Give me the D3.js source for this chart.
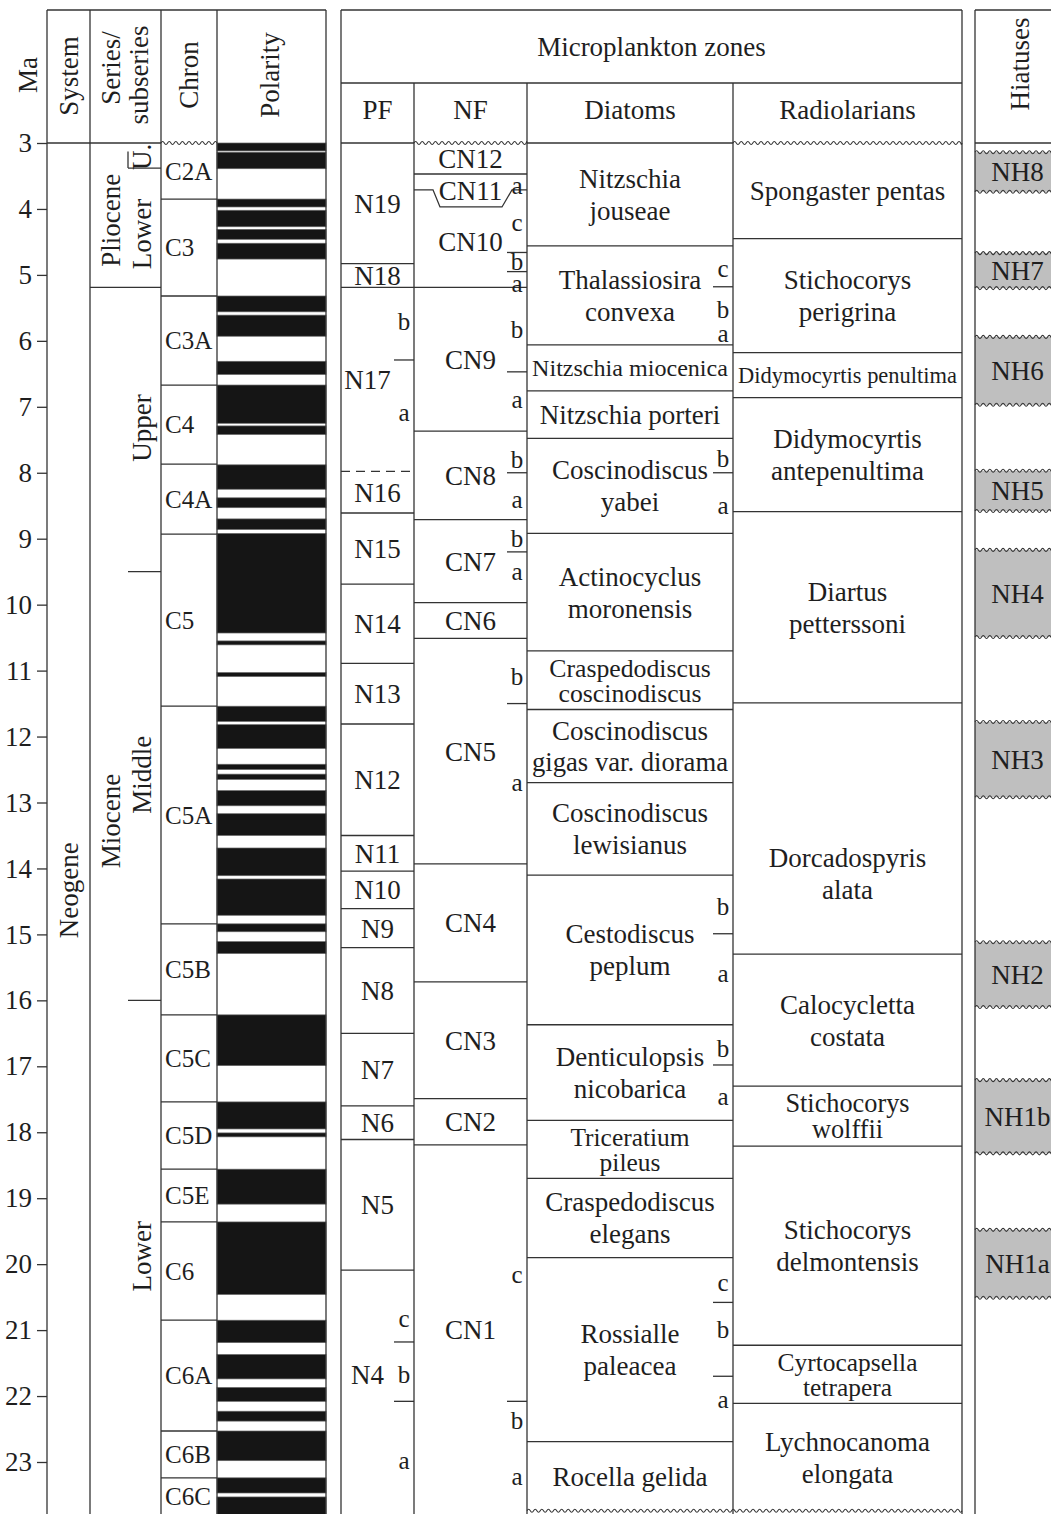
<!DOCTYPE html>
<html>
<head>
<meta charset="utf-8">
<script src="https://cdn.jsdelivr.net/npm/d3@7"></script>
<style>
  body { margin: 0; background: #fff; }
  svg text { font-family: "Liberation Serif", "Times New Roman", serif; fill: #1e1e1e; }
</style>
</head>
<body>
<svg id="chart" width="1051" height="1514"></svg>
<script>
// ---------- data (ages in Ma) ----------
const maTicks = d3.range(3, 24);

const chronNames = ['C2A', 'C3', 'C3A', 'C4', 'C4A', 'C5', 'C5A', 'C5B', 'C5C', 'C5D', 'C5E', 'C6', 'C6A', 'C6B', 'C6C'];
const chronTops  = [3.00, 3.85, 5.32, 6.67, 7.87, 8.93, 11.54, 14.84, 16.22, 17.54, 18.56, 19.36, 20.85, 22.53, 23.24];

// normal polarity (black) intervals
const normalPolarity = [
  [3.00, 3.12], [3.14, 3.39], [3.85, 3.97], [4.02, 4.27], [4.31, 4.46], [4.52, 4.76],
  [5.32, 5.56], [5.61, 5.93], [6.31, 6.51], [6.67, 7.25], [7.29, 7.42], [7.88, 8.25],
  [8.38, 8.53], [8.70, 8.86], [8.92, 10.43], [10.55, 10.61], [11.03, 11.09], [11.54, 11.77],
  [11.82, 12.18], [12.42, 12.50], [12.57, 12.65], [12.82, 13.05], [13.17, 13.50], [13.69, 14.11],
  [14.16, 14.71], [14.84, 14.96], [15.11, 15.29], [16.22, 16.99], [17.54, 17.95], [18.01, 18.07],
  [18.56, 19.09], [19.36, 20.46], [20.85, 21.19], [21.37, 21.74], [21.87, 22.08], [22.23, 22.38],
  [22.53, 22.98], [23.24, 23.47], [23.53, 23.80]
];

// series / subseries
const epochBounds = [5.19];
const stageBounds = [3.38, 9.50, 16.00];
const epochLabels = [['Pliocene', 4.17], ['Miocene', 13.28]];
const stageLabels = [['U.', 3.21], ['Lower', 4.38], ['Upper', 7.32], ['Middle', 12.58], ['Lower', 19.88]];
const systemLabel = ['Neogene', 14.33];

// planktonic foraminifera
const pfNames = ['N19', 'N18', 'N17', 'N16', 'N15', 'N14', 'N13', 'N12', 'N11', 'N10', 'N9', 'N8', 'N7', 'N6', 'N5', 'N4'];
const pfTops  = [3.00, 4.83, 5.19, 7.98, 8.61, 9.69, 10.89, 11.81, 13.50, 14.04, 14.61, 15.20, 16.50, 17.60, 18.11, 20.09];
const pfDashed = [7.98];
const pfSubLines = [6.29, 21.18, 22.08];
const pfSubLetters = [['b', 5.71], ['a', 7.09], ['c', 20.82], ['b', 21.67], ['a', 22.97]];

// nannofossils
const nfNames = ['CN12', 'CN11', 'CN10', 'CN9', 'CN8', 'CN7', 'CN6', 'CN5', 'CN4', 'CN3', 'CN2', 'CN1'];
const nfTops  = [3.00, 3.47, 3.71, 5.19, 7.37, 8.71, 9.97, 10.51, 13.93, 15.72, 17.49, 18.19];
const cn11Dip = 3.97;
const nfSubLines = [4.66, 4.95, 6.47, 8.00, 9.20, 11.50, 22.08];
const nfSubLetters = [['a', 3.64], ['c', 4.20], ['b', 4.80], ['a', 5.13], ['b', 5.82], ['a', 6.88],
  ['b', 7.79], ['a', 8.40], ['b', 9.00], ['a', 9.50], ['b', 11.08], ['a', 12.70],
  ['c', 20.16], ['b', 22.36], ['a', 23.21]];

// diatoms
const diatomNames = [['Nitzschia', 'jouseae'], ['Thalassiosira', 'convexa'], ['Nitzschia miocenica'],
  ['Nitzschia porteri'], ['Coscinodiscus', 'yabei'], ['Actinocyclus', 'moronensis'],
  ['Craspedodiscus', 'coscinodiscus'], ['Coscinodiscus', 'gigas var. diorama'], ['Coscinodiscus', 'lewisianus'],
  ['Cestodiscus', 'peplum'], ['Denticulopsis', 'nicobarica'], ['Triceratium', 'pileus'],
  ['Craspedodiscus', 'elegans'], ['Rossialle', 'paleacea'], ['Rocella gelida']];
const diatomTops = [3.00, 4.56, 6.06, 6.76, 7.48, 8.92, 10.70, 11.59, 12.70, 14.10, 16.37, 17.82, 18.70, 19.90, 22.69];
const diatomSubLines = [5.18, 8.00, 14.99, 16.98, 20.58, 21.70];
const diatomSubLetters = [['c', 4.90], ['b', 5.52], ['a', 5.88], ['b', 7.78], ['a', 8.49],
  ['b', 14.57], ['a', 15.59], ['b', 16.72], ['a', 17.45], ['c', 20.27], ['b', 20.99], ['a', 22.05]];

// radiolarians
const radNames = [['Spongaster pentas'], ['Stichocorys', 'perigrina'], ['Didymocyrtis penultima'],
  ['Didymocyrtis', 'antepenultima'], ['Diartus', 'petterssoni'], ['Dorcadospyris', 'alata'],
  ['Calocycletta', 'costata'], ['Stichocorys', 'wolffii'], ['Stichocorys', 'delmontensis'],
  ['Cyrtocapsella', 'tetrapera'], ['Lychnocanoma', 'elongata']];
const radTops = [3.00, 4.45, 6.18, 6.86, 8.59, 11.49, 15.30, 17.30, 18.21, 21.23, 22.11];

// hiatuses
const hiatusNames = ['NH8', 'NH7', 'NH6', 'NH5', 'NH4', 'NH3', 'NH2', 'NH1b', 'NH1a'];
const hiatusSpans = [[3.14, 3.74], [4.67, 5.20], [5.94, 6.97], [7.97, 8.58], [9.17, 10.49],
  [11.78, 12.92], [15.12, 16.10], [17.21, 18.32], [19.48, 20.51]];

// label positions that are not the middle of their zone
const labelMa = { 'CN11': 3.72, 'CN10': 4.50, 'N4': 21.67, 'Dorcadospyris alata': 14.08 };

// ---------- layout ----------
const BOTTOM = 23.8, WAVY_BOTTOM = 23.74;
const X = { axis: 47, sys: 90, ser: 161, chron: 217, pol: 326, pf: 341, nf: 414, dia: 527,
  rad: 733, radR: 962, hia: 975, hiaR: 1060 };
const TOP = 10, SUB = 83;
const FS = 27, FS_SUB = 25;
const ink = '#333';

const svg = d3.select('#chart');
const y = d3.scaleLinear().domain([3, 23]).range([143, 1462]);
const HEAD = y(3), YB = y(BOTTOM);

const gFill = svg.append('g');
const gLine = svg.append('g').attr('fill', 'none').attr('stroke', ink).attr('stroke-width', 1.3);
const gText = svg.append('g');

function hline(x0, x1, yy, dashed) {
  const l = gLine.append('line').attr('x1', x0).attr('x2', x1).attr('y1', yy).attr('y2', yy);
  if (dashed) l.attr('stroke-dasharray', '9,6');
  return l;
}
function vline(xx, y0, y1) {
  gLine.append('line').attr('x1', xx).attr('x2', xx).attr('y1', y0).attr('y2', y1);
}
function wavy(x0, x1, yy, period = 6.6, amp = 1.5) {
  const p = d3.path();
  p.moveTo(x0, yy);
  let x = x0, up = true;
  while (x < x1 - 0.01) {
    const nx = Math.min(x + period / 2, x1);
    p.quadraticCurveTo((x + nx) / 2, yy + (up ? -2 * amp : 2 * amp), nx, yy);
    x = nx; up = !up;
  }
  gLine.append('path').attr('d', p.toString()).attr('stroke-width', 1.1);
}
function label(x, yy, str, opt = {}) {
  const size = opt.size || FS;
  const t = gText.append('text').attr('x', x).attr('y', yy).attr('dy', '0.35em')
    .attr('text-anchor', opt.anchor || 'middle').style('font-size', size + 'px').text(str);
  if (opt.fit) {
    const w = t.node().getComputedTextLength();
    if (w > opt.fit) t.style('font-size', (size * opt.fit / w) + 'px');
  }
  return t;
}
function vlabel(x, yy, str) {
  gText.append('text').attr('transform', `translate(${x},${yy}) rotate(-90)`).attr('dy', '0.35em')
    .attr('text-anchor', 'middle').style('font-size', FS + 'px').text(str);
}

// ---------- polarity ----------
gFill.selectAll('rect.pol').data(normalPolarity).join('rect').attr('class', 'pol')
  .attr('x', X.chron).attr('width', X.pol - X.chron)
  .attr('y', d => y(d[0])).attr('height', d => y(d[1]) - y(d[0]))
  .attr('fill', '#151515').attr('stroke', '#666').attr('stroke-width', 0.7);

// ---------- hiatuses ----------
hiatusSpans.forEach((s, i) => {
  gFill.append('rect').attr('x', X.hia).attr('width', X.hiaR - X.hia)
    .attr('y', y(s[0])).attr('height', y(s[1]) - y(s[0])).attr('fill', '#bfbfbf');
  wavy(X.hia, X.hiaR, y(s[0]));
  wavy(X.hia, X.hiaR, y(s[1]));
  label((X.hia + X.hiaR) / 2, (y(s[0]) + y(s[1])) / 2, hiatusNames[i]);
});

// ---------- frame ----------
[X.axis, X.sys, X.ser, X.chron, X.pol, X.pf, X.radR, X.hia].forEach(xx => vline(xx, TOP, YB));
[X.nf, X.dia, X.rad].forEach(xx => vline(xx, SUB, YB));
hline(X.axis, X.pol, TOP);
hline(X.pf, X.radR, TOP);
hline(X.pf, X.radR, SUB);
hline(X.hia, X.hiaR, TOP);
hline(X.axis, X.ser, HEAD);
wavy(X.ser, X.chron, HEAD);
hline(X.pf, X.nf, HEAD);
wavy(X.nf, X.dia, HEAD);
hline(X.dia, X.rad, HEAD);
wavy(X.rad, X.radR, HEAD);
hline(X.hia, X.hiaR, HEAD);
wavy(X.dia, X.radR, y(WAVY_BOTTOM));

// ---------- headers ----------
vlabel(28, 75, 'Ma');
vlabel(69, 76, 'System');
vlabel(111, 68, 'Series/');
vlabel(139, 75, 'subseries');
vlabel(189, 75, 'Chron');
vlabel(270, 75, 'Polarity');
vlabel(1020, 64, 'Hiatuses');
label((X.pf + X.radR) / 2, (TOP + SUB) / 2, 'Microplankton zones');
label((X.pf + X.nf) / 2, 110, 'PF');
label((X.nf + X.dia) / 2, 110, 'NF');
label((X.dia + X.rad) / 2, 110, 'Diatoms');
label((X.rad + X.radR) / 2, 110, 'Radiolarians');

// ---------- age axis ----------
const axisG = svg.append('g').attr('transform', `translate(${X.axis},0)`)
  .call(d3.axisLeft(y).tickValues(maTicks).tickSize(10).tickPadding(5).tickFormat(d3.format('d')));
axisG.select('.domain').remove();
axisG.selectAll('.tick line').attr('stroke', ink).attr('stroke-width', 1.3);
axisG.selectAll('.tick text').attr('fill', '#1e1e1e')
  .style('font-family', '"Liberation Serif", "Times New Roman", serif').style('font-size', FS + 'px');

// ---------- system / series ----------
vlabel((X.axis + X.sys) / 2, y(systemLabel[1]), systemLabel[0]);
epochBounds.forEach(m => hline(X.sys, X.ser, y(m)));
stageBounds.forEach(m => hline(X.sys + 38, X.ser, y(m)));
vline(X.sys + 38, y(3.13), y(stageBounds[0]));
epochLabels.forEach(([t, m]) => vlabel(111, y(m), t));
stageLabels.forEach(([t, m]) => vlabel(142, y(m), t));

// ---------- chrons ----------
chronNames.forEach((name, i) => {
  const t = chronTops[i], b = i + 1 < chronTops.length ? chronTops[i + 1] : BOTTOM;
  if (i > 0) hline(X.ser, X.chron, y(t));
  label(X.ser + 4, (y(t) + y(b)) / 2, name, { anchor: 'start', size: 25, fit: X.chron - X.ser - 6 });
});

// ---------- zone columns ----------
function drawZones(x0, x1, names, tops, bottomMa, opt = {}) {
  names.forEach((name, i) => {
    const lines = Array.isArray(name) ? name : [name];
    const key = lines.join(' ');
    const t = tops[i], b = i + 1 < tops.length ? tops[i + 1] : bottomMa;
    if (i > 0 && !(opt.skip || []).includes(t)) hline(x0, x1, y(t), (opt.dashed || []).includes(t));
    const h = y(b) - y(t);
    const yc = labelMa[key] != null ? y(labelMa[key]) : (y(t) + y(b)) / 2;
    const hasSub = (opt.letters || []).some(([, m]) => m > t && m < b);
    const xc = (x0 + x1) / 2 - (hasSub && opt.shift ? opt.shift : 0);
    const gap = Math.min(32, h * 0.43);
    const size = lines.length > 1 ? Math.min(FS, gap * 1.02) : FS;
    lines.forEach((s, j) => label(xc, yc + (j - (lines.length - 1) / 2) * gap, s, { size, fit: x1 - x0 - 10 }));
  });
}
function drawSub(xRight, subLines, letters) {
  subLines.forEach(m => hline(xRight - 20, xRight, y(m)));
  letters.forEach(([l, m]) => label(xRight - 10, y(m), l, { size: FS_SUB }));
}

drawZones(X.pf, X.nf, pfNames, pfTops, BOTTOM, { dashed: pfDashed, letters: pfSubLetters, shift: 10 });
drawSub(X.nf, pfSubLines, pfSubLetters);

drawZones(X.nf, X.dia, nfNames, nfTops, BOTTOM, { skip: [nfTops[2]] });
gLine.append('path').attr('d', d3.line()([
  [X.nf, y(nfTops[2])], [X.nf + 19, y(nfTops[2])], [X.nf + 26, y(cn11Dip)],
  [X.dia - 25, y(cn11Dip)], [X.dia - 15, y(nfTops[2])], [X.dia, y(nfTops[2])]
]));
drawSub(X.dia, nfSubLines, nfSubLetters);

drawZones(X.dia, X.rad, diatomNames, diatomTops, WAVY_BOTTOM);
drawSub(X.rad, diatomSubLines, diatomSubLetters);

drawZones(X.rad, X.radR, radNames, radTops, WAVY_BOTTOM);
</script>
</body>
</html>
